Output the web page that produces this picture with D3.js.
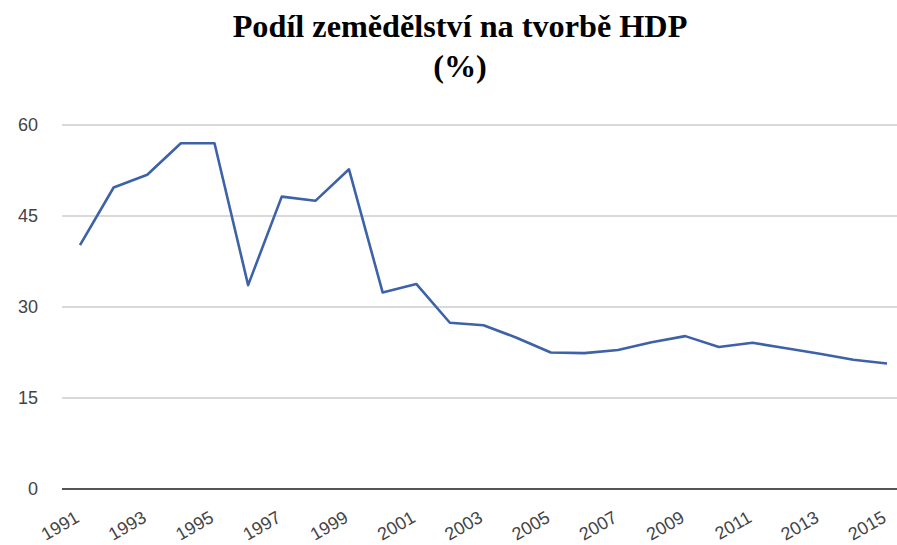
<!DOCTYPE html>
<html>
<head>
<meta charset="utf-8">
<script src="https://cdn.jsdelivr.net/npm/d3@7"></script>
<style>
  html, body { margin: 0; padding: 0; background: #fff; }
  svg { display: block; }
</style>
</head>
<body>
<svg id="chart" width="897" height="545"></svg>
<script>
const years = [1991,1992,1993,1994,1995,1996,1997,1998,1999,2000,2001,2002,2003,2004,2005,2006,2007,2008,2009,2010,2011,2012,2013,2014,2015];
const values = [40.2,49.7,51.8,57.0,57.0,33.6,48.2,47.5,52.7,32.4,33.8,27.4,27.0,24.9,22.5,22.4,22.9,24.2,25.2,23.4,24.1,23.2,22.3,21.3,20.7];
const yTicks = [0,15,30,45,60];
const xTickLabels = [1991,1993,1995,1997,1999,2001,2003,2005,2007,2009,2011,2013,2015];
const titleLines = ["Podíl zemědělství na tvorbě HDP", "(%)"];

const W = 897, H = 545;
const svg = d3.select("#chart");

const x = d3.scaleLinear().domain([1991, 2015]).range([80, 887]);
const y = d3.scaleLinear().domain([0, 60]).range([489, 125]);

// title
const cx = 460;
svg.selectAll("text.title").data(titleLines).join("text")
  .attr("class", "title")
  .attr("x", 0)
  .attr("y", 0)
  .attr("transform", (d, i) => `translate(${cx},${36.5 + i * 40}) scale(1.04,1)`)
  .attr("text-anchor", "middle")
  .attr("font-family", "'Liberation Serif', 'Times New Roman', serif")
  .attr("font-weight", "bold")
  .attr("font-size", 31)
  .attr("fill", "#000")
  .text(d => d);

// gridlines
const grid = svg.append("g").attr("class", "grid");
grid.selectAll("line").data(yTicks.filter(d => d !== 0)).join("line")
  .attr("x1", 62).attr("x2", W)
  .attr("y1", d => y(d)).attr("y2", d => y(d))
  .attr("stroke", "#cccccc").attr("stroke-width", 1.5);

// y axis labels
const yAxis = svg.append("g")
  .attr("transform", "translate(38,0)")
  .call(d3.axisLeft(y).tickValues(yTicks).tickSize(0).tickPadding(0).tickFormat(d3.format("d")));
yAxis.select(".domain").remove();
yAxis.selectAll("text")
  .attr("font-family", "Arial, 'Liberation Sans', sans-serif")
  .attr("font-size", 18)
  .attr("fill", "#444");

// x axis labels
const xAxis = svg.append("g")
  .attr("transform", `translate(0,${y(0)})`)
  .call(d3.axisBottom(x).tickValues(xTickLabels).tickSize(0).tickFormat(d3.format("d")));
xAxis.select(".domain").remove();
xAxis.selectAll("text")
  .attr("font-family", "Arial, 'Liberation Sans', sans-serif")
  .attr("font-size", 18)
  .attr("fill", "#444")
  .attr("text-anchor", "end")
  .attr("dy", null)
  .attr("y", 0)
  .attr("transform", "translate(0,32) rotate(-30)");

// baseline
svg.append("line")
  .attr("x1", 62).attr("x2", W)
  .attr("y1", y(0)).attr("y2", y(0))
  .attr("stroke", "#555").attr("stroke-width", 2);

// line
const line = d3.line().x((d, i) => x(years[i])).y(d => y(d));
svg.append("path")
  .datum(values)
  .attr("d", line)
  .attr("fill", "none")
  .attr("stroke", "#3d62a8")
  .attr("stroke-width", 2.6)
  .attr("stroke-linejoin", "round");
</script>
</body>
</html>
